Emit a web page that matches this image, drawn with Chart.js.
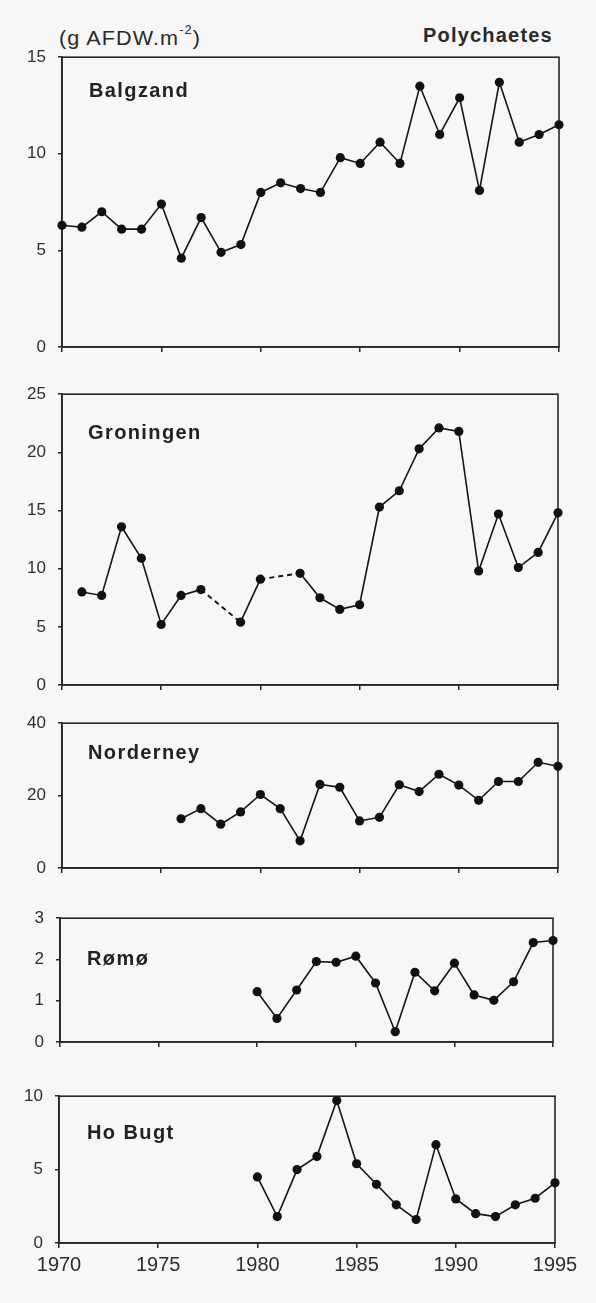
<!DOCTYPE html>
<html>
<head>
<meta charset="utf-8">
<script src="https://cdn.jsdelivr.net/npm/chart.js@4/dist/chart.umd.min.js"></script>
<style>
  html, body { margin: 0; padding: 0; background: #f7f7f7; }
  #page { position: relative; width: 596px; height: 1303px; overflow: hidden;
          font-family: "Liberation Sans", Arial, sans-serif; color: #2a2a2a; }
  canvas { position: absolute; left: 0; }
  .hdr { position: absolute; white-space: nowrap; line-height: 1; transform-origin: left center; }
  #unit { left: 59px; top: 27px; font-size: 20px; letter-spacing: 1px; transform: scaleX(1.08); }
  #unit sup { font-size: 12px; position: relative; top: -3px; }
  #group { left: 423px; top: 25px; font-size: 20px; font-weight: bold; letter-spacing: 1.2px; }
</style>
</head>
<body>
<div id="page">
  <div class="hdr" id="unit">(g AFDW.m<sup>-2</sup>)</div>
  <div class="hdr" id="group">Polychaetes</div>
  <canvas id="c1"></canvas>
  <canvas id="c2"></canvas>
  <canvas id="c3"></canvas>
  <canvas id="c4"></canvas>
  <canvas id="c5"></canvas>
</div>
<script>
// Survey years shared by all stations
const years = [1970, 1971, 1972, 1973, 1974, 1975, 1976, 1977, 1978, 1979,
               1980, 1981, 1982, 1983, 1984, 1985, 1986, 1987, 1988, 1989,
               1990, 1991, 1992, 1993, 1994, 1995];

// Polychaete biomass per station (g AFDW per m2); null = no sample that year
const balgzand  = [6.3, 6.2, 7.0, 6.1, 6.1, 7.4, 4.6, 6.7, 4.9, 5.3,
                   8.0, 8.5, 8.2, 8.0, 9.8, 9.5, 10.6, 9.5, 13.5, 11.0,
                   12.9, 8.1, 13.7, 10.6, 11.0, 11.5];
const groningen = [null, 8.0, 7.7, 13.6, 10.9, 5.2, 7.7, 8.2, null, 5.4,
                   9.1, null, 9.6, 7.5, 6.5, 6.9, 15.3, 16.7, 20.3, 22.1,
                   21.8, 9.8, 14.7, 10.1, 11.4, 14.8];
const norderney = [null, null, null, null, null, null, 13.6, 16.4, 12.1, 15.5,
                   20.3, 16.4, 7.5, 23.1, 22.3, 13.0, 14.0, 23.0, 21.1, 25.9,
                   22.9, 18.7, 23.9, 23.9, 29.2, 28.1];
const romo      = [null, null, null, null, null, null, null, null, null, null,
                   1.22, 0.57, 1.26, 1.95, 1.93, 2.08, 1.43, 0.25, 1.69, 1.24,
                   1.91, 1.14, 1.01, 1.46, 2.41, 2.46];
const hoBugt    = [null, null, null, null, null, null, null, null, null, null,
                   4.5, 1.8, 5.0, 5.9, 9.7, 5.4, 4.0, 2.6, 1.6, 6.7,
                   3.0, 2.0, 1.8, 2.6, 3.05, 4.1];

// Axis ranges per station
const stationNames = ["Balgzand", "Groningen", "Norderney", "Rømø", "Ho Bugt"];
const yMax  = [15, 25, 40, 3, 10];
const yStep = [5, 5, 20, 1, 5];
const xTickStep = 5;

const INK = "#262626";
const FONT = '"Liberation Sans", Arial, sans-serif';

// Draws the closed frame round the plot area and the station name inside it
const framePlugin = {
  id: "frame",
  beforeDatasetsDraw(chart, args, opts) {
    const { ctx, chartArea: a } = chart;
    ctx.save();
    ctx.strokeStyle = INK;
    ctx.lineWidth = 1.6;
    ctx.strokeRect(a.left, a.top, a.right - a.left, a.bottom - a.top);
    ctx.fillStyle = "#222";
    ctx.font = "bold 20px " + FONT;
    if ("letterSpacing" in ctx) ctx.letterSpacing = "1.4px";
    ctx.textBaseline = "middle";
    ctx.textAlign = "left";
    ctx.fillText(opts.label, a.left + opts.dx, a.top + opts.dy);
    ctx.restore();
  }
};

function buildConfig(idx, values, box, showYears, axisH) {
  const W = 596;
  const points = years.map((yr, i) => ({ x: yr, y: values[i] }));
  return {
    type: "line",
    data: {
      datasets: [{
        data: points,
        borderColor: "#151515",
        borderWidth: 1.6,
        pointRadius: 4.6,
        pointBackgroundColor: "#111",
        pointBorderWidth: 0,
        tension: 0,
        spanGaps: true,
        clip: false,
        segment: {
          // years without a sample are bridged with a dotted line
          borderDash: ctx => (ctx.p0.skip || ctx.p1.skip ? [5, 4] : undefined),
          borderWidth: ctx => (ctx.p0.skip || ctx.p1.skip ? 1.9 : undefined)
        }
      }]
    },
    options: {
      responsive: false,
      animation: false,
      devicePixelRatio: 1,
      layout: { padding: { left: 0, right: W - box.R, top: 0, bottom: 0 } },
      plugins: {
        legend: { display: false },
        tooltip: { enabled: false },
        frame: { label: stationNames[idx], dx: box.nameDx, dy: box.nameDy }
      },
      scales: {
        x: {
          type: "linear",
          min: years[0],
          max: years[years.length - 1],
          afterFit: s => { s.height = axisH; },
          border: { display: true, color: INK, width: 1.6 },
          grid: { display: true, drawOnChartArea: false, drawTicks: true,
                  tickLength: 5, color: INK, lineWidth: 1.5 },
          ticks: {
            display: showYears,
            stepSize: xTickStep,
            autoSkip: false,
            maxRotation: 0,
            padding: 5,
            color: "#2e2e2e",
            font: { family: FONT, size: 20 },
            callback: v => String(v)
          }
        },
        y: {
          min: 0,
          max: yMax[idx],
          afterFit: s => { s.width = box.L; },
          border: { display: true, color: INK, width: 1.6 },
          grid: { display: true, drawOnChartArea: false, drawTicks: true,
                  tickLength: 4, color: INK, lineWidth: 1.5 },
          ticks: {
            stepSize: yStep[idx],
            padding: 12,
            color: "#2e2e2e",
            font: { family: FONT, size: 17 }
          }
        }
      }
    },
    plugins: [framePlugin]
  };
}

// Lays out one station panel so that its plot frame spans box.T..box.B
function makePanel(canvasId, idx, values, box, showYears) {
  const axisH = 42;
  const cv = document.getElementById(canvasId);
  cv.width = 596;
  cv.height = (box.B - box.T) + 60 + axisH;
  let chart = new Chart(cv, buildConfig(idx, values, box, showYears, axisH));
  const topGap = chart.chartArea.top;
  chart.destroy();

  cv.width = 596;
  cv.height = Math.round(topGap + (box.B - box.T) + axisH);
  cv.style.width = "596px";
  cv.style.height = cv.height + "px";
  cv.style.top = (box.T - topGap) + "px";
  chart = new Chart(cv, buildConfig(idx, values, box, showYears, axisH));
  return chart;
}

makePanel("c1", 0, balgzand,  { L: 62, R: 559, T: 57,   B: 347,  nameDx: 27, nameDy: 34 }, false);
makePanel("c2", 1, groningen, { L: 62, R: 558, T: 394,  B: 685,  nameDx: 26, nameDy: 39 }, false);
makePanel("c3", 2, norderney, { L: 62, R: 558, T: 723,  B: 868,  nameDx: 26, nameDy: 30 }, false);
makePanel("c4", 3, romo,      { L: 60, R: 553, T: 918,  B: 1042, nameDx: 27, nameDy: 41 }, false);
makePanel("c5", 4, hoBugt,    { L: 59, R: 555, T: 1096, B: 1243, nameDx: 28, nameDy: 37 }, true);
</script>
</body>
</html>
